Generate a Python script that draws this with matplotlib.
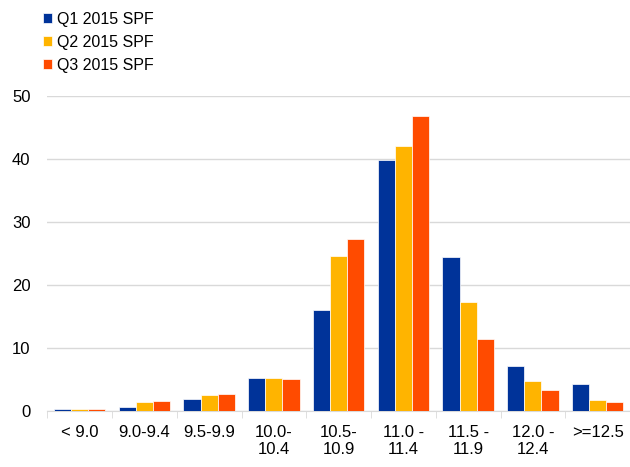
import matplotlib.pyplot as plt
import numpy as np

plt.rcParams["font.family"] = ["Liberation Sans", "DejaVu Sans"]

categories = ["< 9.0", "9.0-9.4", "9.5-9.9", "10.0-\n10.4", "10.5-\n10.9",
              "11.0 -\n11.4", "11.5 -\n11.9", "12.0 -\n12.4", ">=12.5"]
q1 = [0.3, 0.6, 1.9, 5.2, 16.1, 39.8, 24.4, 7.2, 4.3]
q2 = [0.3, 1.4, 2.6, 5.2, 24.6, 42.1, 17.3, 4.8, 1.7]
q3 = [0.3, 1.6, 2.7, 5.1, 27.3, 46.8, 11.5, 3.4, 1.4]
series_names = ["Q1 2015 SPF", "Q2 2015 SPF", "Q3 2015 SPF"]
colors = ["#003399", "#FFB400", "#FF4B00"]

fig = plt.figure(figsize=(6.3, 4.67), dpi=100)
ax = fig.add_axes([0.075, 0.12, 0.925, 0.674])

x = np.arange(len(categories))
w = 0.265
for i, (vals, name, c) in enumerate(zip([q1, q2, q3], series_names, colors)):
    ax.bar(x + (i - 1) * w, vals, w, color=c, label=name,
           edgecolor="white", linewidth=0.5, zorder=3)

ax.set_xlim(-0.5, len(categories) - 0.5)
ax.set_ylim(0, 50)
ax.set_yticks(range(0, 51, 10))
ax.yaxis.grid(True, color="#d9d9d9", linewidth=1, zorder=0)
ax.set_xticks(x)
ax.set_xticklabels(categories, fontsize=12)
ax.set_xticks(np.arange(-0.5, len(categories), 1), minor=True)
ax.tick_params(axis="x", which="major", length=0, pad=10)
ax.tick_params(axis="x", which="minor", length=5, color="#d9d9d9")
ax.tick_params(axis="y", length=0, labelsize=12, pad=12)
for s in ["top", "right", "left"]:
    ax.spines[s].set_visible(False)
ax.spines["bottom"].set_color("#d9d9d9")

fig.legend(loc="upper left", bbox_to_anchor=(0.045, 1.005), frameon=False,
           fontsize=11.5, handlelength=0.6, handleheight=0.6, handletextpad=0.3,
           labelspacing=0.5)

fig.savefig("out.png")
